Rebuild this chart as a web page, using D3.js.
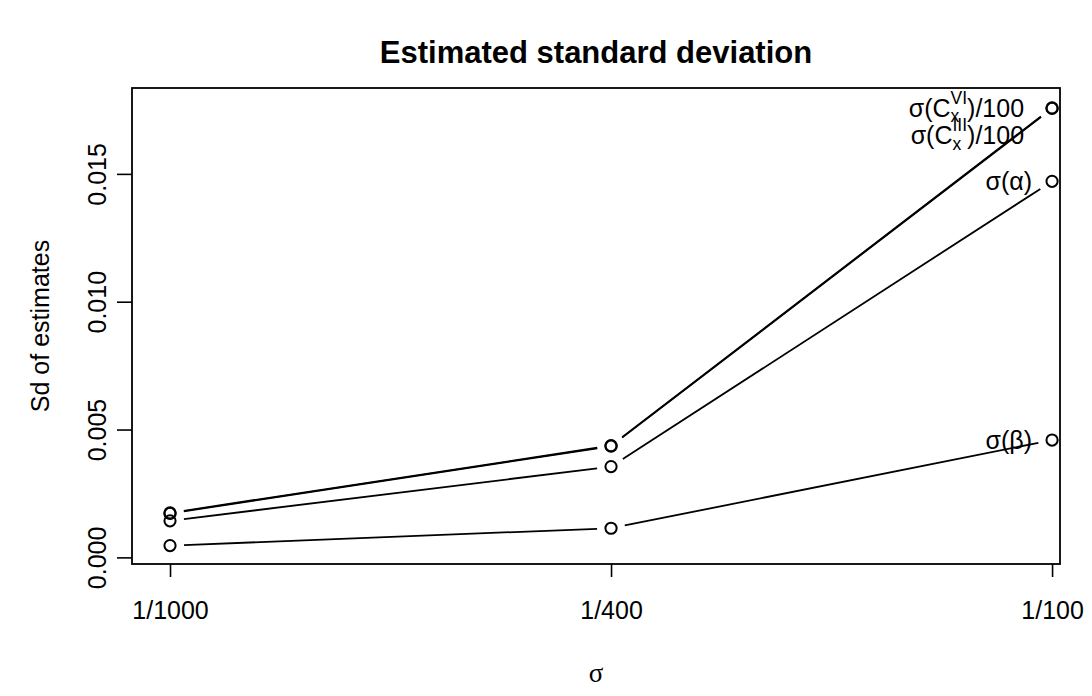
<!DOCTYPE html>
<html><head><meta charset="utf-8">
<script src="https://cdn.jsdelivr.net/npm/d3@7"></script>
<style>body{margin:0;background:#fff} text{font-family:"Liberation Sans",Arial,sans-serif;fill:#000}</style>
</head><body><svg id="chart" width="1092" height="696" xmlns="http://www.w3.org/2000/svg"></svg>
<script>
// ---- data ----
const categories = ["1/1000", "1/400", "1/100"];
const sdCxVI  = [0.00174, 0.00437, 0.01758];
const sdCxIII = [0.00172, 0.00435, 0.01756];
const sdAlpha = [0.00143, 0.00355, 0.01471];
const sdBeta  = [0.00046, 0.00114, 0.00459];
const yTicks = [0, 0.005, 0.010, 0.015];
const yTickLabels = ["0.000", "0.005", "0.010", "0.015"];
const titleText = "Estimated standard deviation";
const xTitleText = "σ";
const yTitleText = "Sd of estimates";

// ---- layout ----
const W = 1092, H = 696;
const box = {left: 132, right: 1060, top: 88, bottom: 564};
const fs = 25;
const svg = d3.select("#chart");
svg.append("rect").attr("width", W).attr("height", H).attr("fill", "#fff");

const x = d3.scaleLinear().domain([0.9138, 3.018]).range([box.left, box.right]);
const y = d3.scaleLinear().domain([-0.00022, 0.01832]).range([box.bottom - 1, box.top + 1]);

// axes
const yAxis = svg.append("g").attr("transform", `translate(${box.left},0)`)
  .call(d3.axisLeft(y).tickValues(yTicks).tickFormat((d, i) => yTickLabels[i]).tickSize(15).tickPadding(0));
yAxis.select(".domain").remove();
yAxis.selectAll(".tick line").attr("stroke", "#000").attr("stroke-width", 1.6);
yAxis.selectAll(".tick text")
  .attr("font-size", fs).attr("font-family", "Liberation Sans, Arial, sans-serif")
  .attr("transform", "rotate(-90)").attr("x", 0).attr("y", -35)
  .attr("dy", null).attr("text-anchor", "middle").attr("dominant-baseline", "central");

const xAxis = svg.append("g").attr("transform", `translate(0,${box.bottom})`)
  .call(d3.axisBottom(x).tickValues([1, 2, 3]).tickFormat((d) => categories[d - 1]).tickSize(13).tickPadding(0));
xAxis.select(".domain").remove();
xAxis.selectAll(".tick line").attr("stroke", "#000").attr("stroke-width", 1.6);
xAxis.selectAll(".tick text")
  .attr("font-size", fs).attr("font-family", "Liberation Sans, Arial, sans-serif")
  .attr("y", 46).attr("dy", null).attr("dominant-baseline", "central");

// box
svg.append("rect").attr("x", box.left).attr("y", box.top)
  .attr("width", box.right - box.left).attr("height", box.bottom - box.top)
  .attr("fill", "none").attr("stroke", "#000").attr("stroke-width", 1.8);

// titles
svg.append("text").attr("x", (box.left + box.right) / 2).attr("y", 52)
  .attr("text-anchor", "middle").attr("dominant-baseline", "central")
  .attr("font-size", 31).attr("font-weight", "bold").text(titleText);
svg.append("text").attr("x", (box.left + box.right) / 2).attr("y", 673)
  .attr("text-anchor", "middle").attr("dominant-baseline", "central")
  .attr("font-size", 27).style("font-family", "Liberation Serif, serif").text(xTitleText);
svg.append("text").attr("transform", `translate(40,${(box.top + box.bottom) / 2}) rotate(-90)`)
  .attr("text-anchor", "middle").attr("dominant-baseline", "central")
  .attr("font-size", fs).text(yTitleText);

// series (type = "b": points + lines with gaps)
const series = [sdCxVI, sdCxIII, sdAlpha, sdBeta];
const gap = 14;
const plot = svg.append("g");
series.forEach((vals) => {
  const pts = vals.map((v, i) => [x(i + 1), y(v)]);
  for (let i = 0; i < pts.length - 1; i++) {
    const [x0, y0] = pts[i], [x1, y1] = pts[i + 1];
    const len = Math.hypot(x1 - x0, y1 - y0);
    const ux = (x1 - x0) / len, uy = (y1 - y0) / len;
    plot.append("line")
      .attr("x1", x0 + ux * gap).attr("y1", y0 + uy * gap)
      .attr("x2", x1 - ux * gap).attr("y2", y1 - uy * gap)
      .attr("stroke", "#000").attr("stroke-width", 1.8);
  }
  plot.selectAll(null).data(pts).enter().append("circle")
    .attr("cx", d => d[0]).attr("cy", d => d[1]).attr("r", 5.6)
    .attr("fill", "none").attr("stroke", "#000").attr("stroke-width", 2);
});

// labels
const lastX = x(3);
function simpleLabel(txt, val) {
  svg.append("text").attr("x", lastX - 20).attr("y", y(val))
    .attr("text-anchor", "end").attr("dominant-baseline", "central")
    .attr("font-size", fs).text(txt);
}
function mathLabel(sup, val, dyPix) {
  const g = svg.append("g");
  const baseY = y(val) + dyPix + fs * 0.35;
  const t1 = g.append("text").attr("x", 0).attr("y", baseY).attr("font-size", fs).text("σ(C");
  const w1 = t1.node().getComputedTextLength();
  const ts = fs * 0.7;
  const tsup = g.append("text").attr("x", w1).attr("y", baseY - fs * 0.52).attr("font-size", ts).text(sup);
  const tsub = g.append("text").attr("x", w1).attr("y", baseY + fs * 0.22).attr("font-size", ts).text("x");
  const w2 = Math.max(tsup.node().getComputedTextLength(), tsub.node().getComputedTextLength());
  const t3 = g.append("text").attr("x", w1 + w2).attr("y", baseY).attr("font-size", fs).text(")/100");
  const total = w1 + w2 + t3.node().getComputedTextLength();
  g.attr("transform", `translate(${lastX - 28 - total},0)`);
}
mathLabel("VI", sdCxVI[2], 0);
mathLabel("III", sdCxIII[2], 27);
simpleLabel("σ(α)", sdAlpha[2]);
simpleLabel("σ(β)", sdBeta[2]);
</script></body></html>
